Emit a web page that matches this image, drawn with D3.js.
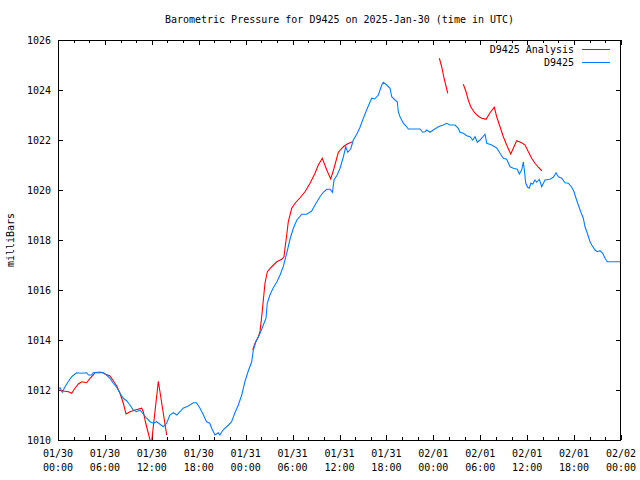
<!DOCTYPE html>
<html>
<head>
<meta charset="utf-8">
<script src="https://cdn.jsdelivr.net/npm/d3@7"></script>
<style>
  html, body { margin: 0; padding: 0; background: #fff; }
  svg { display: block; }
  text { font-family: "DejaVu Sans Mono", "Liberation Mono", monospace; font-size: 10px; fill: #000; }
</style>
</head>
<body>
<script>
// ---- data (hours since 2025-01-30 00:00 UTC, millibars) ----
const chartTitle = "Barometric Pressure for D9425 on 2025-Jan-30 (time in UTC)";
const yLabel = "milliBars";
const seriesNames = ["D9425 Analysis", "D9425"];
const yTicks = [1010, 1012, 1014, 1016, 1018, 1020, 1022, 1024, 1026];

const stationHours = [0.0,0.26,0.55,0.9,1.3,1.75,2.17,2.4,3.0,3.67,3.9,4.3,4.5,5.37,5.8,6.2,6.65,7.07,7.5,7.93,8.35,8.78,9.2,9.63,10.06,10.49,10.9,11.34,11.77,12.19,12.62,13.05,13.47,13.9,14.3,14.75,15.2,15.6,16.0,16.67,17.3,17.7,18.16,18.6,19.0,19.4,19.65,20.08,20.5,20.7,21.1,21.8,22.2,22.6,23.06,23.5,23.9,24.3,24.77,24.98,25.3,25.75,26.17,26.6,26.76,27.1,27.5,28.0,28.4,28.8,29.25,29.7,30.1,30.55,31.17,31.8,32.44,32.87,33.5,33.93,34.36,34.8,35.1,35.3,35.7,36.07,36.5,36.8,37.05,37.43,37.77,38.2,38.6,39.05,39.56,40.12,40.5,40.97,41.4,41.6,42.04,42.46,42.68,43.1,43.39,43.52,43.74,44.16,44.6,44.8,46.3,46.64,46.94,47.15,47.58,48.0,48.64,49.28,49.71,50.13,50.77,51.19,51.41,51.84,52.27,52.69,53.04,53.33,53.63,53.97,54.61,54.83,55.47,56.1,56.53,56.95,57.38,57.81,58.23,58.74,59.0,59.3,59.51,59.64,59.82,60.07,60.28,60.46,60.71,61.0,61.22,61.55,61.86,62.28,62.92,63.35,63.69,63.99,64.42,64.84,65.26,65.7,65.99,66.25,66.54,66.85,67.18,67.4,67.69,68.04,68.26,68.68,68.97,69.32,69.66,69.96,70.25,72.0];
const stationValues = [1012.05,1012.09,1011.91,1012.13,1012.33,1012.53,1012.64,1012.69,1012.67,1012.69,1012.6,1012.6,1012.69,1012.72,1012.69,1012.6,1012.47,1012.27,1012.11,1011.87,1011.67,1011.57,1011.4,1011.2,1011.13,1011.2,1011.04,1010.87,1010.73,1010.67,1010.73,1010.63,1010.53,1010.67,1011.0,1011.09,1011.0,1011.13,1011.27,1011.36,1011.49,1011.49,1011.27,1011.0,1010.73,1010.67,1010.47,1010.2,1010.29,1010.2,1010.4,1010.6,1010.73,1011.07,1011.4,1011.8,1012.33,1012.73,1013.13,1013.6,1013.93,1014.2,1014.53,1014.87,1015.47,1015.8,1016.07,1016.33,1016.6,1016.93,1017.47,1018.07,1018.47,1018.8,1019.03,1019.03,1019.16,1019.4,1019.73,1019.91,1020.03,1020.03,1019.91,1020.4,1020.6,1020.87,1021.33,1021.73,1021.51,1021.64,1022.0,1022.23,1022.49,1022.87,1023.27,1023.67,1023.64,1023.8,1024.2,1024.31,1024.2,1024.07,1023.73,1023.6,1023.53,1023.13,1022.93,1022.67,1022.53,1022.44,1022.44,1022.31,1022.33,1022.4,1022.31,1022.4,1022.53,1022.6,1022.67,1022.6,1022.6,1022.47,1022.31,1022.27,1022.17,1022.13,1022.0,1022.13,1021.91,1022.0,1022.23,1021.87,1021.8,1021.68,1021.47,1021.27,1021.23,1020.93,1020.87,1020.83,1020.64,1020.8,1021.13,1020.8,1020.27,1020.11,1020.07,1020.27,1020.24,1020.4,1020.31,1020.43,1020.13,1020.4,1020.43,1020.51,1020.69,1020.53,1020.47,1020.29,1020.27,1020.11,1019.93,1019.67,1019.4,1019.13,1018.87,1018.53,1018.27,1017.93,1017.8,1017.6,1017.53,1017.57,1017.47,1017.27,1017.13,1017.13];

// null values mark gaps in the analysis series
const analysisHours = [0.0,0.68,1.32,1.75,2.17,2.6,3.03,3.67,4.09,4.51,4.73,5.79,6.01,6.65,7.07,7.51,7.93,8.35,8.7,9.21,9.85,10.7,10.91,11.22,11.55,11.93,12.83,13.9,
  19.0,
  24.9,25.2,25.62,25.83,26.05,26.26,26.47,26.77,27.33,27.97,28.61,28.9,29.03,29.25,29.45,29.89,30.31,30.95,31.59,32.23,32.87,33.29,33.8,34.37,34.88,35.3,35.85,36.49,36.92,37.34,37.69,
  43.0,
  48.77,49.07,49.37,49.84,
  50.8,
  51.83,52.18,52.47,52.78,53.33,53.84,54.19,54.74,55.25,55.8,56.1,56.53,56.95,57.38,57.9,58.23,58.66,59.3,59.73,60.15,60.58,61.0,61.43,61.86];
const analysisValues = [1012.0,1011.96,1011.93,1011.87,1012.07,1012.24,1012.33,1012.29,1012.47,1012.6,1012.69,1012.69,1012.64,1012.56,1012.37,1012.16,1011.87,1011.47,1011.04,1011.13,1011.2,1011.27,1011.13,1010.67,1010.27,1009.8,1012.35,1010.2,
  null,
  1013.6,1013.87,1014.13,1014.33,1014.93,1015.6,1016.27,1016.73,1016.93,1017.13,1017.23,1017.33,1017.67,1018.2,1018.73,1019.27,1019.47,1019.69,1019.93,1020.27,1020.67,1021.0,1021.27,1020.8,1020.44,1020.87,1021.51,1021.73,1021.83,1021.89,1021.93,
  null,
  1025.27,1024.93,1024.47,1023.87,
  null,
  1024.23,1023.93,1023.6,1023.33,1023.07,1022.93,1022.87,1022.83,1023.09,1023.31,1022.93,1022.53,1022.13,1021.8,1021.44,1021.67,1021.97,1021.89,1021.8,1021.53,1021.27,1021.07,1020.91,1020.77];

// ---- layout ----
const W = 640, H = 480;
const L = 58, R = 621, T = 40, B = 440;
const t0 = Date.UTC(2025, 0, 30, 0, 0);
const t1 = Date.UTC(2025, 1, 2, 0, 0);
const toDate = h => new Date(t0 + h * 3600000);

const svg = d3.select("body").append("svg").attr("width", W).attr("height", H);
svg.append("rect").attr("width", W).attr("height", H).attr("fill", "#fff");

const x = d3.scaleUtc().domain([new Date(t0), new Date(t1)]).range([L, R]);
const y = d3.scaleLinear().domain([1010, 1026]).range([B, T]);

// clip
svg.append("clipPath").attr("id", "clip").append("rect")
  .attr("x", L).attr("y", T).attr("width", R - L).attr("height", B - T);

// ticks
const majorTicks = d3.utcHour.every(6).range(new Date(t0), new Date(t1 + 1));
const minorTicks = d3.utcHour.every(2).range(new Date(t0), new Date(t1 + 1))
  .filter(d => d.getUTCHours() % 6 !== 0);

const tg = svg.append("g").attr("stroke", "#000").attr("stroke-width", 1).attr("shape-rendering", "crispEdges");
majorTicks.forEach(d => {
  const px = Math.round(x(d)) + 0.5;
  tg.append("line").attr("x1", px).attr("x2", px).attr("y1", B).attr("y2", B - 5);
  tg.append("line").attr("x1", px).attr("x2", px).attr("y1", T).attr("y2", T + 5);
});
minorTicks.forEach(d => {
  const px = Math.round(x(d)) + 0.5;
  tg.append("line").attr("x1", px).attr("x2", px).attr("y1", B).attr("y2", B - 3);
  tg.append("line").attr("x1", px).attr("x2", px).attr("y1", T).attr("y2", T + 3);
});
yTicks.forEach(v => {
  const py = Math.round(y(v)) + 0.5;
  tg.append("line").attr("x1", L).attr("x2", L + 5).attr("y1", py).attr("y2", py);
  tg.append("line").attr("x1", R).attr("x2", R - 5).attr("y1", py).attr("y2", py);
});

// y tick labels
const fmtDay = d3.utcFormat("%m/%d"), fmtTime = d3.utcFormat("%H:%M");
svg.append("g").selectAll("text").data(yTicks).join("text")
  .attr("x", 51).attr("y", d => y(d) + 4)
  .attr("text-anchor", "end").text(d => d);

// x tick labels
const xl = svg.append("g").selectAll("g").data(majorTicks).join("g");
xl.append("text").attr("x", d => x(d)).attr("y", 457).attr("text-anchor", "middle").text(d => fmtDay(d));
xl.append("text").attr("x", d => x(d)).attr("y", 471).attr("text-anchor", "middle").text(d => fmtTime(d));

// title & y label
svg.append("text").attr("x", (L + R) / 2).attr("y", 23).attr("text-anchor", "middle").text(chartTitle);
svg.append("text").attr("transform", "translate(14,240) rotate(-90)").attr("text-anchor", "middle").text(yLabel);

// series
const line = d3.line()
  .defined(d => d[1] !== null)
  .x(d => x(toDate(d[0])))
  .y(d => y(d[1]));

const analysisData = analysisHours.map((h, i) => [h, analysisValues[i]]);
const stationData = stationHours.map((h, i) => [h, stationValues[i]]);

const plot = svg.append("g").attr("clip-path", "url(#clip)");
plot.append("path").datum(analysisData).attr("d", line)
  .attr("fill", "none").attr("stroke", "#ff0000").attr("stroke-width", 1.1);
plot.append("path").datum(stationData).attr("d", line)
  .attr("fill", "none").attr("stroke", "#0080ff").attr("stroke-width", 1.1);

// frame
svg.append("rect").attr("x", L + 0.5).attr("y", T + 0.5).attr("width", R - L - 1).attr("height", B - T)
  .attr("fill", "none").attr("stroke", "#000").attr("stroke-width", 1).attr("shape-rendering", "crispEdges");

// legend
const legendColors = ["#ff0000", "#0080ff"];
const lg = svg.append("g").selectAll("g").data(seriesNames).join("g")
  .attr("transform", (d, i) => `translate(0,${49 + i * 13})`);
lg.append("text").attr("x", 574).attr("y", 4).attr("text-anchor", "end").text(d => d);
lg.append("line").attr("x1", 582).attr("x2", 610).attr("y1", 0.5).attr("y2", 0.5)
  .attr("stroke", (d, i) => legendColors[i]).attr("stroke-width", 1).attr("shape-rendering", "crispEdges");
</script>
</body>
</html>
